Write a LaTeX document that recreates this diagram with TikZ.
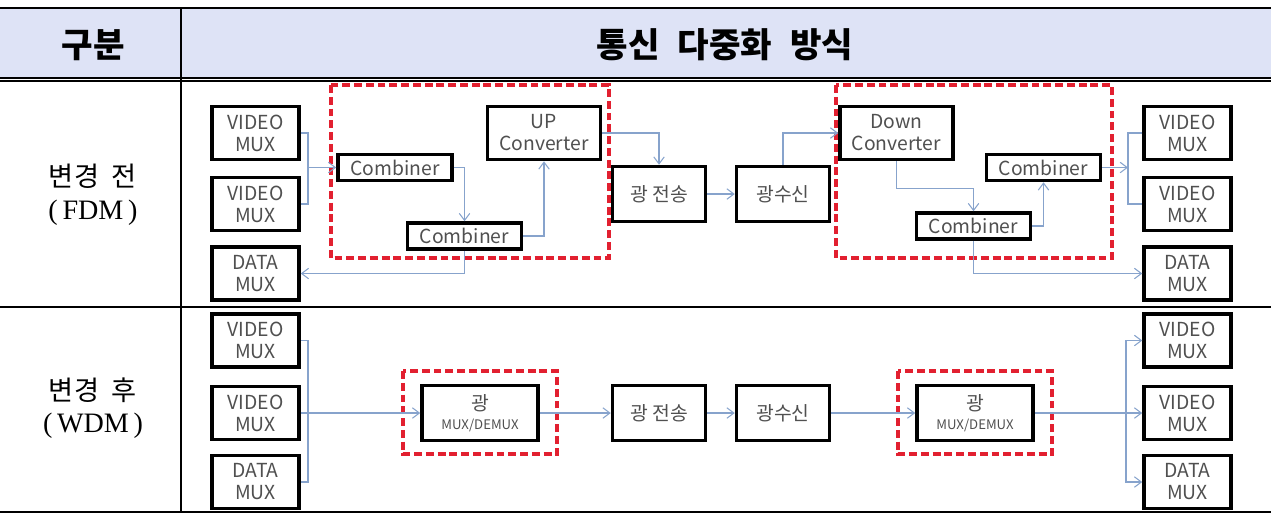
\documentclass[tikz,border=0pt]{standalone}
\usepackage{fontspec}
\newfontfamily\kr{Noto Sans CJK KR}
\newfontfamily\krserif{Liberation Serif}
\usetikzlibrary{arrows.meta}
\definecolor{hdrfill}{RGB}{222,227,246}
\definecolor{wirecol}{RGB}{135,163,204}
\definecolor{grpred}{RGB}{226,32,48}
\definecolor{txtgray}{RGB}{80,80,80}
\tikzset{
  blk/.style={draw=black, line width=2pt, fill=white, inner sep=0pt, align=center,
    text=txtgray, font=\kr\fontsize{11}{12.5}\selectfont},
  muxbox/.style={blk, minimum width=1.74cm, minimum height=1.06cm},
  combbox/.style={blk, minimum width=2.28cm, minimum height=0.52cm},
  convbox/.style={blk, minimum width=2.26cm, minimum height=1.06cm},
  optbox/.style={blk, minimum width=1.86cm, minimum height=1.1cm},
  wdmbox/.style={blk, minimum width=2.32cm, minimum height=1.1cm},
  grp/.style={draw=grpred, line width=2pt, dash pattern=on 4.5pt off 2.2pt},
  wire/.style={draw=wirecol, line width=0.6pt},
  hdr/.style={font=\kr\bfseries\fontsize{19.5}{22}\selectfont},
  rowlbl/.style={font=\kr\fontsize{15.5}{17}\selectfont},
  rowsub/.style={font=\krserif\fontsize{16}{18}\selectfont}
}
\newcommand{\smalltag}[1]{\\[-2pt]{\fontsize{7.5}{8}\selectfont #1}}
\begin{document}
\begin{tikzpicture}[x=0.02cm,y=-0.02cm,>={Straight Barb[length=4pt,width=6pt]}]
  \useasboundingbox (0,0) rectangle (1271,515);
  % table frame
  \fill[hdrfill] (0,9) rectangle (1271,78);
  \draw[line width=1.6pt] (0,8) -- (1271,8);
  \draw[line width=0.6pt] (0,78) -- (1271,78);
  \draw[line width=0.6pt] (0,81) -- (1271,81);
  \draw[line width=0.8pt] (0,307) -- (1271,307);
  \draw[line width=0.8pt] (0,512) -- (1271,512);
  \draw[line width=0.8pt] (181,8) -- (181,512);
  \node[hdr] (hcol) at (93,45) {구분};
  \node[hdr] (hmain) at (725,45) {통신\hspace{0.3em} 다중화\hspace{0.3em} 방식};
  \node[rowlbl] (lbl1) at (93,176) {변경\hspace{0.25em} 전};
  \node[rowsub] (sub1) at (93,213) {(\,FDM\,)};
  \node[rowlbl] (lbl2) at (93,390) {변경\hspace{0.25em} 후};
  \node[rowsub] (sub2) at (93,426) {(\,WDM\,)};

  % before: FDM
  \draw[grp] (331,85) rectangle (609,258);
  \draw[grp] (836,85) rectangle (1112,258);
  \node[muxbox] (vm1L) at (255.5,133) {VIDEO\\MUX};
  \node[muxbox] (vm2L) at (255.5,204) {VIDEO\\MUX};
  \node[muxbox] (dmL) at (255.5,273.5) {DATA\\MUX};
  \node[combbox] (comb1) at (395,167.5) {Combiner};
  \node[combbox] (comb2) at (464.5,236) {Combiner};
  \node[convbox] (upc) at (544,133) {UP\\Converter};
  \node[optbox] (tx1) at (659,194) {광 전송};
  \node[optbox] (rx1) at (783,194) {광수신};
  \node[convbox] (dnc) at (896.5,133) {Down\\Converter};
  \node[combbox] (comb3) at (973.5,226) {Combiner};
  \node[combbox] (comb4) at (1043.5,167.5) {Combiner};
  \node[muxbox] (vm1R) at (1187.5,133) {VIDEO\\MUX};
  \node[muxbox] (vm2R) at (1187.5,204) {VIDEO\\MUX};
  \node[muxbox] (dmR) at (1187.5,273.5) {DATA\\MUX};
  \coordinate (j0) at (308,167.5);
  \coordinate (j1) at (1128,167.5);
  \draw[wire] (vm1L.east) -| (j0) |- (vm2L.east);
  \draw[wire,->] (j0) -- (comb1.west);
  \draw[wire,->] (comb1.east) -| (comb2.north);
  \draw[wire,->] (comb2.east) -| (upc.south);
  \draw[wire,->] (comb2.south) |- (dmL.east);
  \draw[wire,->] (upc.east) -| (tx1.north);
  \draw[wire,->] (tx1.east) -- (rx1.west);
  \draw[wire,->] (rx1.north) |- (dnc.west);
  \draw[wire,->] (dnc.south) -- ++(0,27) -| (comb3.north);
  \draw[wire,->] (comb3.east) -| (comb4.south);
  \draw[wire,->] (comb3.south) |- (dmR.west);
  \draw[wire,->] (comb4.east) -- (j1);
  \draw[wire] (vm1R.west) -| (j1) |- (vm2R.west);

  % after: WDM
  \draw[grp] (403,371) rectangle (557,454);
  \draw[grp] (898,371) rectangle (1052,454);
  \node[muxbox] (vm1W) at (255.5,340.5) {VIDEO\\MUX};
  \node[muxbox] (vm2W) at (255.5,413) {VIDEO\\MUX};
  \node[muxbox] (dmW) at (255.5,482) {DATA\\MUX};
  \node[wdmbox] (wdmA) at (480,413) {광\smalltag{MUX/DEMUX}};
  \node[optbox] (tx2) at (659,413) {광 전송};
  \node[optbox] (rx2) at (783,413) {광수신};
  \node[wdmbox] (wdmB) at (975,413) {광\smalltag{MUX/DEMUX}};
  \node[muxbox] (vm1E) at (1187.5,340.5) {VIDEO\\MUX};
  \node[muxbox] (vm2E) at (1187.5,413) {VIDEO\\MUX};
  \node[muxbox] (dmE) at (1187.5,482) {DATA\\MUX};
  \coordinate (j2) at (308,413);
  \coordinate (j3) at (1126,413);
  \draw[wire] (vm1W.east) -| (j2) |- (dmW.east);
  \draw[wire,->] (vm2W.east) -- (wdmA.west);
  \draw[wire,->] (wdmA.east) -- (tx2.west);
  \draw[wire,->] (tx2.east) -- (rx2.west);
  \draw[wire,->] (rx2.east) -- (wdmB.west);
  \draw[wire,->] (wdmB.east) -- (vm2E.west);
  \draw[wire,->] (j3) |- (vm1E.west);
  \draw[wire,->] (j3) |- (dmE.west);
\end{tikzpicture}
\end{document}
